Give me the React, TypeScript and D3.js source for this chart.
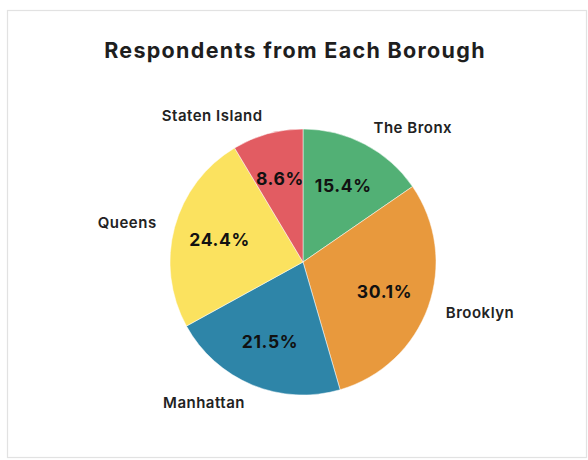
import React from "react";
import * as d3 from "d3";

const categories = ["The Bronx", "Brooklyn", "Manhattan", "Queens", "Staten Island"];
const values = [15.4, 30.1, 21.5, 24.4, 8.6];
const colors = ["#52b075", "#e8993d", "#2e85a8", "#fbe25f", "#e25c62"];
const title = "Respondents from Each Borough";

const W = 588;
const H = 460;
const FONT = "Inter, 'Open Sans', 'DejaVu Sans', sans-serif";

export default function App() {
  const cx = 303;
  const cy = 262;
  const r = 133;
  const data = categories.map((c, i) => ({ c, v: values[i], color: colors[i] }));
  const pie = d3.pie<any>().value((d) => d.v).sort(null);
  const arcs = pie(data);
  const arc = d3.arc<any>().innerRadius(0).outerRadius(r);
  const inner = d3.arc<any>().innerRadius(r * 0.65).outerRadius(r * 0.65);
  const outerR = r * 1.14;

  return (
    <svg width={W} height={H} style={{ position: "absolute", left: 0, top: 0 }}>
      <rect x={7.5} y={10.5} width={579} height={447} fill="#fff" stroke="#e2e2e2" strokeWidth={1.2} />
      <text x={295} y={58} textAnchor="middle" fontFamily={FONT} fontWeight={700} fontSize={21.5} letterSpacing={1.3} fill="#1e1e1e">
        {title}
      </text>
      <g transform={`translate(${cx},${cy})`}>
        {arcs.map((a, i) => (
          <path key={i} d={arc(a) as string} fill={a.data.color} stroke="#fff" strokeWidth={0.5} />
        ))}
        {arcs.map((a, i) => {
          const [x, y] = inner.centroid(a);
          return (
            <text key={"p" + i} x={x} y={y} textAnchor="middle" dominantBaseline="central" fontFamily={FONT} fontWeight={700} fontSize={17.5} letterSpacing={0.6} fill="#111">
              {a.data.v.toFixed(1)}%
            </text>
          );
        })}
        {arcs.map((a, i) => {
          const mid = (a.startAngle + a.endAngle) / 2;
          const x = Math.sin(mid) * outerR;
          const y = -Math.cos(mid) * outerR;
          const anchor = x >= 0 ? "start" : "end";
          return (
            <text key={"l" + i} x={x} y={y} textAnchor={anchor} dominantBaseline="central" fontFamily={FONT} fontWeight={600} fontSize={15} letterSpacing={0.5} fill="#222">
              {a.data.c}
            </text>
          );
        })}
      </g>
    </svg>
  );
}
